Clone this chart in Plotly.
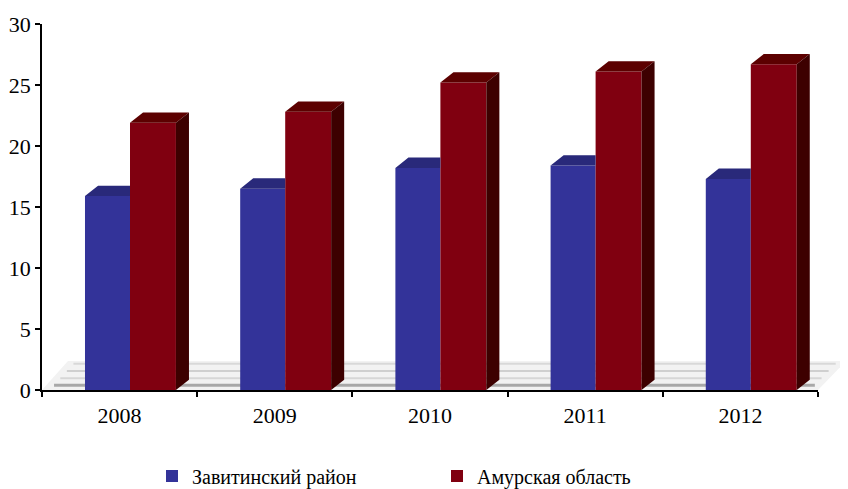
import plotly.graph_objects as go

years = ["2008", "2009", "2010", "2011", "2012"]
zavitinsky = [15.9, 16.5, 18.2, 18.4, 17.3]
amur = [21.9, 22.8, 25.2, 26.1, 26.7]
series_names = ["Завитинский район", "Амурская область"]
y_ticks = [0, 5, 10, 15, 20, 25, 30]

FONT = "Liberation Serif, Times New Roman, serif"
front = ["#333399", "#800010"]
top_c = ["#29297a", "#5c0000"]
side_c = ["#1f1f5c", "#3d0000"]
offsets = [-0.223, 0.067]
widths = [0.29, 0.296]
DX, DY = 0.084, 0.85  # 3-D depth in axis units

# the page body adds an 8 px margin, so the figure is drawn 8 px smaller
W, H = 840, 481

xs = list(range(len(years)))
fig = go.Figure()

for k, vals in enumerate([zavitinsky, amur]):
    fig.add_trace(go.Bar(
        x=xs, y=vals, name=series_names[k], offset=offsets[k], width=widths[k],
        marker=dict(color=front[k], line=dict(width=0)),
        legend="legend" if k == 0 else "legend2", showlegend=True,
    ))

for k, vals in enumerate([zavitinsky, amur]):
    tx, ty, sx, sy = [], [], [], []
    for i, v in enumerate(vals):
        x0 = i + offsets[k]
        x1 = x0 + widths[k]
        if k == 0:
            tx += [x0, x1, x1, x0 + DX, x0, None]
            ty += [v, v, v + DY, v + DY, v, None]
        else:
            tx += [x0, x1, x1 + DX, x0 + DX, x0, None]
            ty += [v, v, v + DY, v + DY, v, None]
            sx += [x1, x1 + DX, x1 + DX, x1, x1, None]
            sy += [0, DY, v + DY, v, 0, None]
    fig.add_trace(go.Scatter(x=tx, y=ty, fill="toself", fillcolor=top_c[k], mode="lines",
                             line=dict(width=0), hoverinfo="skip", showlegend=False))
    if sx:
        fig.add_trace(go.Scatter(x=sx, y=sy, fill="toself", fillcolor=side_c[k], mode="lines",
                                 line=dict(width=0), hoverinfo="skip", showlegend=False))

# floor (3-D base)
shapes = [dict(type="path", xref="paper", yref="paper", layer="below",
               path="M 0 0 L 1 0 L 1.036 0.079 L 0.0335 0.079 Z",
               fillcolor="#f2f2f2", line=dict(width=0))]
for yy, col, w in [(0.072, "#d8d8d8", 2), (0.052, "#cfcfcf", 2), (0.032, "#d6d6d6", 2), (0.013, "#a8a8a8", 3)]:
    shapes.append(dict(type="line", xref="paper", yref="paper", layer="below",
                       x0=0.0335 * (yy / 0.079) + 0.01, x1=1.0 + 0.036 * (yy / 0.079) - 0.01, y0=yy, y1=yy,
                       line=dict(color=col, width=w)))

fig.update_layout(
    width=W, height=H,
    margin=dict(l=34, r=30, t=16, b=99, autoexpand=False),
    paper_bgcolor="white", plot_bgcolor="rgba(0,0,0,0)",
    font=dict(family=FONT, color="black", size=21),
    barmode="overlay",
    shapes=shapes,
    xaxis=dict(range=[-0.5, 4.5], tickmode="array", tickvals=xs, ticktext=years,
               ticks="", showgrid=False, zeroline=False, showline=True, linecolor="black",
               linewidth=1.5, ticklabelstandoff=5, tickfont=dict(size=22, family=FONT, color="black"),
               minor=dict(tickmode="array", tickvals=[-0.5, 0.5, 1.5, 2.5, 3.5, 4.5],
                          ticks="outside", ticklen=5, tickcolor="black", tickwidth=1.5, showgrid=False)),
    yaxis=dict(range=[0, 30], tickmode="array", tickvals=y_ticks, ticks="outside", ticklen=5,
               tickcolor="black", tickwidth=1.5, showgrid=False, zeroline=False, showline=True,
               linecolor="black", linewidth=1.5, tickfont=dict(size=22, family=FONT, color="black")),
    legend=dict(orientation="h", xref="container", yref="container", x=144 / W, xanchor="left",
                y=1 - 468 / H, yanchor="middle",
                font=dict(size=20, family=FONT, color="black"), bgcolor="rgba(0,0,0,0)"),
    legend2=dict(orientation="h", xref="container", yref="container", x=429 / W, xanchor="left",
                 y=1 - 468 / H, yanchor="middle",
                 font=dict(size=20, family=FONT, color="black"), bgcolor="rgba(0,0,0,0)"),
    hovermode=False,
)

fig.write_html("out.html")
